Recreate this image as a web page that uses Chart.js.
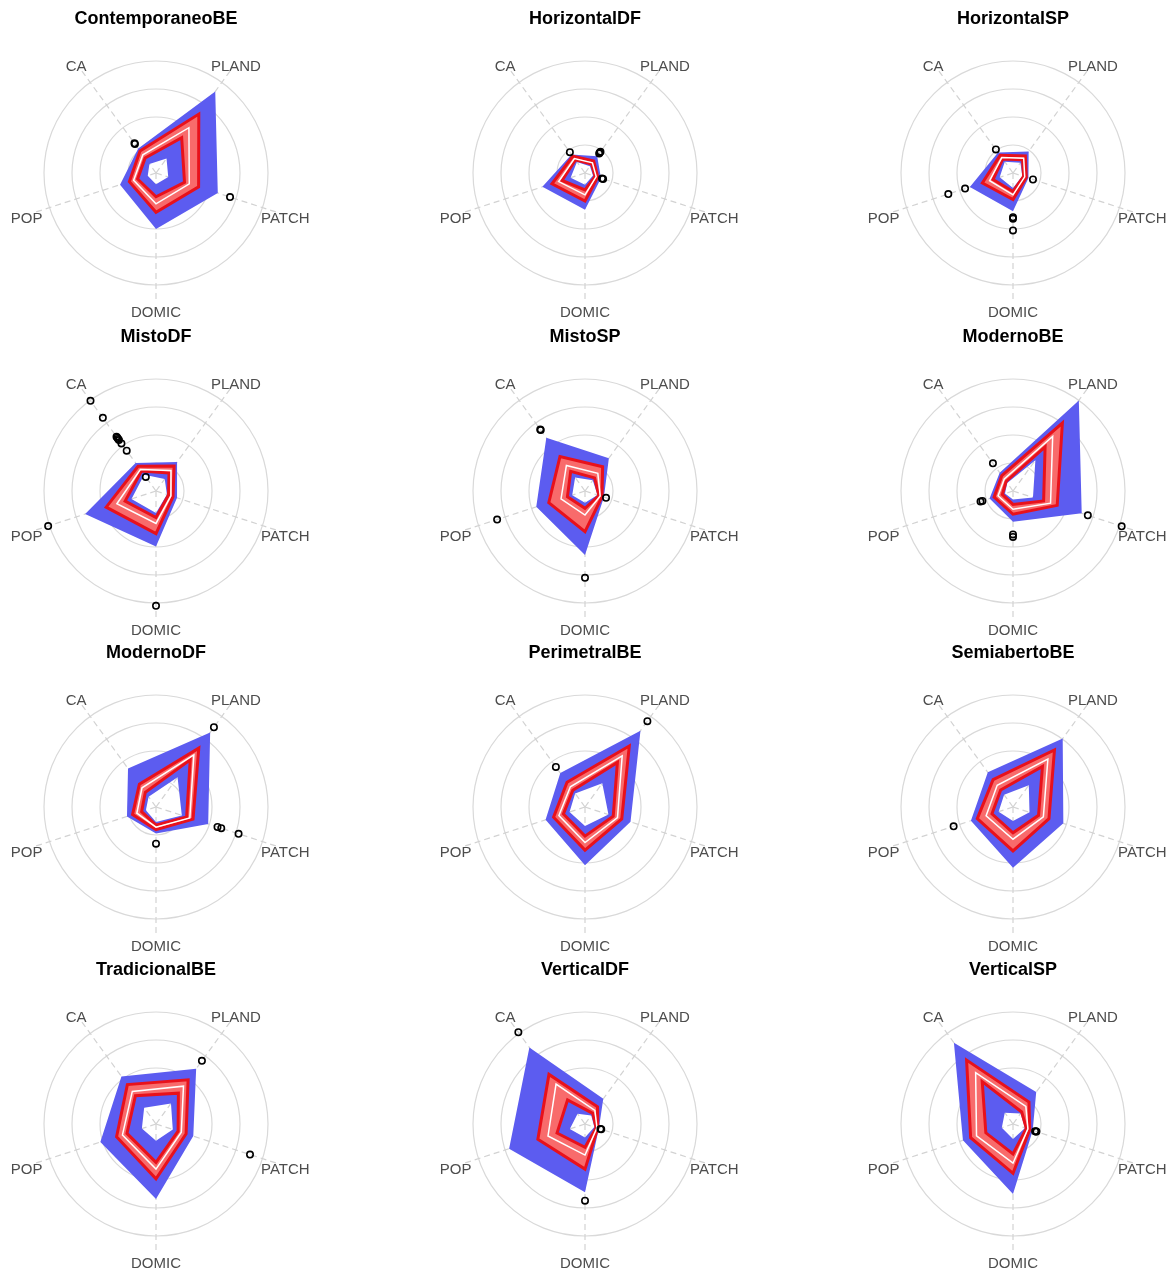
<!DOCTYPE html>
<html>
<head>
<meta charset="utf-8">
<script src="https://cdn.jsdelivr.net/npm/chart.js@4.4.1/dist/chart.umd.min.js"></script>
<style>
  html, body { margin: 0; background: #fff; overflow: hidden; }
  #grid { position: relative; width: 1175px; height: 1272px; }
  .panel { position: absolute; }
</style>
</head>
<body>
<div id="grid"></div>
<script>
// spokes, clockwise from the upper right
const axes = ['PLAND', 'PATCH', 'DOMIC', 'POP', 'CA'];

const groups = [
  'ContemporaneoBE', 'HorizontalDF', 'HorizontalSP',
  'MistoDF', 'MistoSP', 'ModernoBE',
  'ModernoDF', 'PerimetralBE', 'SemiabertoBE',
  'TradicionalBE', 'VerticalDF', 'VerticalSP'
];

// five-number summaries per group, values in axes order
const minVals = [
  [0.64, 0.46, 0.40, 0.31, 0.40],
  [0.30, 0.30, 0.42, 0.54, 0.49],
  [0.45, 0.35, 0.54, 0.50, 0.50],
  [0.53, 0.41, 0.79, 0.92, 0.72],
  [0.47, 0.47, 0.42, 0.48, 0.60],
  [1.36, 0.75, 0.30, 0.30, 0.35],
  [1.31, 0.97, 0.54, 0.38, 0.45],
  [1.05, 0.88, 0.68, 0.58, 0.60],
  [0.96, 0.62, 0.50, 0.54, 0.54],
  [0.91, 0.63, 0.60, 0.53, 0.72],
  [0.38, 0.35, 0.48, 0.57, 0.45],
  [0.46, 0.45, 0.54, 0.42, 0.50]
];
const q1Vals = [
  [1.56, 1.07, 0.85, 0.69, 0.66],
  [0.40, 0.38, 0.60, 0.86, 0.58],
  [0.58, 0.40, 0.66, 0.75, 0.62],
  [0.79, 0.47, 0.95, 1.16, 0.88],
  [0.58, 0.52, 0.62, 0.66, 0.87],
  [1.95, 1.15, 0.48, 0.40, 0.42],
  [2.08, 1.15, 0.65, 0.54, 0.65],
  [1.97, 1.06, 1.04, 0.81, 0.74],
  [1.79, 0.96, 0.92, 0.79, 0.75],
  [1.36, 0.83, 1.37, 1.09, 1.25],
  [0.47, 0.42, 0.83, 1.05, 1.06],
  [0.53, 0.50, 1.07, 1.02, 1.87]
];
const medVals = [
  [2.00, 1.25, 1.10, 0.84, 0.80],
  [0.45, 0.42, 0.78, 0.99, 0.64],
  [0.65, 0.44, 0.78, 0.88, 0.68],
  [0.91, 0.56, 1.16, 1.47, 0.95],
  [0.78, 0.57, 0.86, 0.90, 1.13],
  [2.41, 1.41, 0.65, 0.56, 0.53],
  [2.30, 1.27, 0.72, 0.72, 0.85],
  [2.26, 1.22, 1.27, 0.98, 0.89],
  [2.12, 1.14, 1.15, 1.01, 0.96],
  [1.67, 0.95, 1.61, 1.26, 1.44],
  [0.60, 0.45, 1.11, 1.39, 1.76],
  [0.78, 0.56, 1.40, 1.37, 2.27]
];
const q3Vals = [
  [2.60, 1.60, 1.40, 1.00, 0.97],
  [0.53, 0.48, 1.00, 1.24, 0.74],
  [0.75, 0.50, 0.95, 1.15, 0.78],
  [1.10, 0.64, 1.52, 1.87, 1.09],
  [1.07, 0.64, 1.45, 1.36, 1.52],
  [3.00, 1.66, 0.83, 0.71, 0.68],
  [2.60, 1.39, 0.81, 0.88, 1.01],
  [2.69, 1.38, 1.54, 1.18, 1.09],
  [2.52, 1.35, 1.57, 1.34, 1.21],
  [1.95, 1.13, 1.96, 1.48, 1.74],
  [0.76, 0.48, 1.61, 1.77, 2.19],
  [0.97, 0.63, 1.76, 1.59, 2.82]
];
const maxVals = [
  [3.60, 2.32, 2.00, 1.35, 1.08],
  [0.74, 0.60, 1.31, 1.60, 0.82],
  [0.95, 0.58, 1.37, 1.62, 0.91],
  [1.28, 0.79, 1.98, 2.66, 1.24],
  [1.45, 0.71, 2.29, 1.83, 2.35],
  [4.00, 2.58, 1.10, 0.88, 0.81],
  [3.29, 1.96, 0.95, 1.09, 1.70],
  [3.37, 1.71, 2.08, 1.48, 1.50],
  [3.02, 1.89, 2.17, 1.58, 1.53],
  [2.44, 1.40, 2.68, 2.09, 2.10],
  [1.11, 0.52, 2.44, 2.85, 3.38],
  [1.41, 0.74, 2.50, 1.88, 3.59]
];
// outliers as [axis index, value]
const outliers = [
  [[4, 1.28], [4, 1.31], [1, 2.78]],
  [[0, 0.86], [0, 0.90], [0, 0.94], [1, 0.64], [1, 0.68], [4, 0.92]],
  [[4, 1.04], [1, 0.75], [2, 1.58], [2, 1.63], [2, 2.05], [3, 1.80], [3, 2.43]],
  [[4, 0.62], [4, 1.78], [4, 2.10], [4, 2.25], [4, 2.30], [4, 2.35], [4, 2.40], [4, 3.23], [4, 3.98], [3, 4.05], [2, 4.10]],
  [[4, 2.69], [4, 2.72], [1, 0.79], [3, 3.30], [2, 3.10]],
  [[4, 1.22], [3, 1.15], [3, 1.22], [2, 1.55], [2, 1.64], [1, 2.81], [1, 4.08]],
  [[0, 3.52], [1, 2.31], [1, 2.45], [1, 3.10], [2, 1.31]],
  [[4, 1.77], [0, 3.79]],
  [[3, 2.23]],
  [[0, 2.79], [1, 3.53]],
  [[4, 4.05], [1, 0.58], [1, 0.61], [2, 2.74]],
  [[1, 0.83], [1, 0.86], [1, 0.88]]
];

const colCenters = [156, 585, 1013];
const rowCenters = [173, 491, 807, 1124];
const PANEL_W = 320;
const PANEL_H = 317;
const RADIUS = 126;   // distance of max (4.5) from centre
const LABEL_R = 136;

const BLUE = '#5c5cf0';
const RED_FILL = '#f86b6b';
const RED_LINE = '#e8111b';

// axis names and panel title, drawn centred on their spots
const panelText = {
  id: 'panelText',
  afterDraw(chart, args, opts) {
    const r = chart.scales.r;
    const ctx = chart.ctx;
    ctx.save();
    ctx.textAlign = 'center';
    ctx.textBaseline = 'middle';
    ctx.fillStyle = '#4d4d4d';
    ctx.font = '15px "Liberation Sans", Arial, sans-serif';
    axes.forEach((name, i) => {
      const p = r.getPointPosition(i, LABEL_R);
      ctx.fillText(name, p.x, p.y + 4);
    });
    ctx.fillStyle = '#000';
    ctx.font = 'bold 18px "Liberation Sans", Arial, sans-serif';
    ctx.fillText(opts.title, r.xCenter, r.yCenter - 154);
    ctx.restore();
  }
};

function band(data, opts) {
  return Object.assign({
    data: data,
    borderWidth: 0,
    pointRadius: 0,
    pointHoverRadius: 0,
    tension: 0,
    fill: false
  }, opts);
}

function buildDatasets(k) {
  const sets = [
    band(maxVals[k], { order: 4, fill: '+1', backgroundColor: BLUE }),
    band(minVals[k], { order: 5 }),
    band(q3Vals[k], { order: 3, fill: '+1', backgroundColor: RED_FILL, borderColor: RED_LINE, borderWidth: 3 }),
    band(q1Vals[k], { order: 2, borderColor: RED_LINE, borderWidth: 3 }),
    band(medVals[k], { order: 1, borderColor: '#ffffff', borderWidth: 1.5 })
  ];
  outliers[k].forEach(([axis, value]) => {
    const data = axes.map((_, i) => (i === axis ? value : null));
    sets.push({
      data: data,
      order: 0,
      showLine: false,
      borderWidth: 0,
      fill: false,
      pointStyle: 'circle',
      pointRadius: 3.2,
      pointBorderWidth: 1.6,
      pointBorderColor: '#000',
      pointBackgroundColor: 'rgba(0,0,0,0)'
    });
  });
  return sets;
}

const grid = document.getElementById('grid');

groups.forEach((name, k) => {
  const cx = colCenters[k % 3];
  const cy = rowCenters[Math.floor(k / 3)];
  const top = cy - 173;
  const left = cx - PANEL_W / 2;

  const box = document.createElement('div');
  box.className = 'panel';
  box.style.left = left + 'px';
  box.style.top = top + 'px';
  const canvas = document.createElement('canvas');
  canvas.width = PANEL_W;
  canvas.height = PANEL_H;
  box.appendChild(canvas);
  grid.appendChild(box);

  new Chart(canvas, {
    type: 'radar',
    data: { labels: axes, datasets: buildDatasets(k) },
    options: {
      responsive: false,
      animation: false,
      events: [],
      layout: {
        padding: {
          left: PANEL_W / 2 - RADIUS,
          right: PANEL_W / 2 - RADIUS,
          top: 173 - RADIUS,
          bottom: PANEL_H - 173 - RADIUS
        }
      },
      plugins: {
        legend: { display: false },
        tooltip: { enabled: false },
        panelText: { title: name }
      },
      scales: {
        r: {
          min: 0,
          max: 4.5,
          bounds: 'data',
          startAngle: 36,
          ticks: { display: false, stepSize: 1, includeBounds: false },
          grid: { circular: true, color: '#d9d9d9', lineWidth: 1.2 },
          angleLines: { color: '#d2d2d2', lineWidth: 1.2, borderDash: [6, 4] },
          pointLabels: { display: false }
        }
      }
    },
    plugins: [panelText]
  });
});
</script>
</body>
</html>
